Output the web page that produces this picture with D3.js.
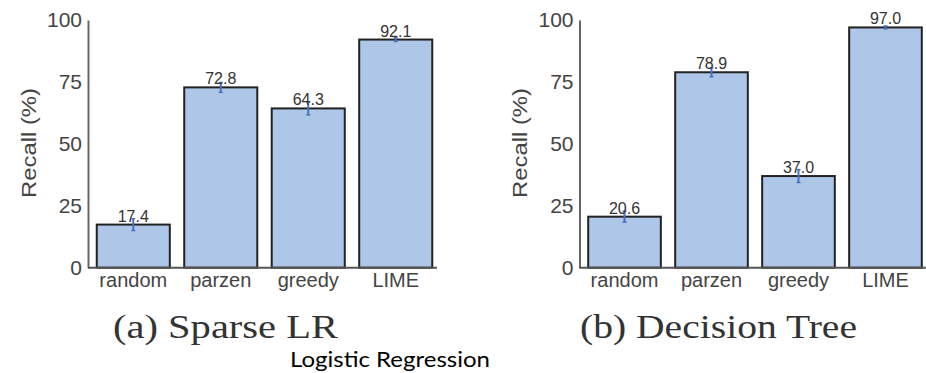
<!DOCTYPE html>
<html>
<head>
<meta charset="utf-8">
<script src="https://cdn.jsdelivr.net/npm/d3@7"></script>
<style>
  body { margin: 0; background: white; }
  svg { display: block; }
</style>
</head>
<body>
<svg id="chart" width="926" height="373"></svg>
<script>
// data
const methods = ["random", "parzen", "greedy", "LIME"];
const sparseLRRecall = [17.4, 72.8, 64.3, 92.1];
const sparseLRError = [2.4, 2.0, 2.6, 0.8];
const treeRecall = [20.6, 78.9, 37.0, 97.0];
const treeError = [2.2, 1.8, 2.6, 0.6];
const yTicks = [0, 25, 50, 75, 100];
const captions = ["(a) Sparse LR", "(b) Decision Tree"];
const yLabel = "Recall (%)";
const note = "Logistic Regression";

const sans = "'Liberation Sans', Arial, Helvetica, sans-serif";
const serif = "'Liberation Serif', 'Times New Roman', Times, serif";

const svg = d3.select("#chart");

// panel 설정
const panels = [
    {values: sparseLRRecall, errors: sparseLRError, caption: captions[0],
     axisX: 88, right: 441, lineEnd: 437, labelX: 29, capX: 113, capLen: 225},
    {values: treeRecall, errors: treeError, caption: captions[1],
     axisX: 579.5, right: 930.5, lineEnd: 926, labelX: 520, capX: 580, capLen: 277}
];

const yScale = d3.scaleLinear().domain([0, 100]).range([267.7, 20]);

panels.forEach(p => {
    const g = svg.append("g");

    const xScale = d3.scaleBand()
        .domain(methods)
        .range([p.axisX, p.right])
        .paddingInner(0.165)
        .paddingOuter(0.1);

    // bars
    g.selectAll("rect.bar")
        .data(methods)
        .join("rect")
        .attr("class", "bar")
        .attr("x", d => xScale(d))
        .attr("y", (d, i) => yScale(p.values[i]))
        .attr("width", xScale.bandwidth())
        .attr("height", (d, i) => yScale(0) - yScale(p.values[i]))
        .style("fill", "#aec6e8")
        .style("stroke", "#222")
        .style("stroke-width", 2);

    // error bars
    const err = g.selectAll("g.err")
        .data(methods)
        .join("g")
        .attr("class", "err");
    err.append("line")
        .attr("x1", d => xScale(d) + xScale.bandwidth() / 2)
        .attr("x2", d => xScale(d) + xScale.bandwidth() / 2)
        .attr("y1", (d, i) => yScale(p.values[i] - p.errors[i]))
        .attr("y2", (d, i) => yScale(p.values[i] + p.errors[i]))
        .style("stroke", "#4a72c4")
        .style("stroke-width", 2);
    [-1, 1].forEach(s => {
        err.append("line")
            .attr("x1", d => xScale(d) + xScale.bandwidth() / 2 - 2)
            .attr("x2", d => xScale(d) + xScale.bandwidth() / 2 + 2)
            .attr("y1", (d, i) => yScale(p.values[i] + s * p.errors[i]))
            .attr("y2", (d, i) => yScale(p.values[i] + s * p.errors[i]))
            .style("stroke", "#4a72c4")
            .style("stroke-width", 1.5);
    });

    // value labels
    g.selectAll("text.val")
        .data(methods)
        .join("text")
        .attr("class", "val")
        .attr("x", d => xScale(d) + xScale.bandwidth() / 2)
        .attr("y", (d, i) => yScale(p.values[i]) - 3)
        .attr("text-anchor", "middle")
        .style("font-family", sans)
        .style("font-size", "16px")
        .style("fill", "#333")
        .text((d, i) => p.values[i].toFixed(1));

    // y axis
    const yAxis = g.append("g")
        .attr("transform", `translate(${p.axisX},0)`)
        .call(d3.axisLeft(yScale).tickValues(yTicks).tickSize(0).tickPadding(6));
    yAxis.select(".domain").style("stroke", "#666").style("stroke-width", 2);
    yAxis.selectAll("text")
        .style("font-family", sans)
        .style("font-size", "21px")
        .style("fill", "#444");

    // baseline
    g.append("line")
        .attr("x1", p.axisX)
        .attr("x2", p.lineEnd)
        .attr("y1", yScale(0))
        .attr("y2", yScale(0))
        .style("stroke", "#555")
        .style("stroke-width", 2);

    // x labels
    const xAxis = g.append("g")
        .attr("transform", `translate(0,${yScale(0)})`)
        .call(d3.axisBottom(xScale).tickSize(0).tickPadding(5));
    xAxis.select(".domain").remove();
    xAxis.selectAll("text")
        .style("font-family", sans)
        .style("font-size", "20px")
        .style("fill", "#444");

    // y label
    g.append("text")
        .attr("transform", `translate(${p.labelX + 7},143) rotate(-90)`)
        .attr("text-anchor", "middle")
        .attr("textLength", 110)
        .attr("lengthAdjust", "spacingAndGlyphs")
        .style("font-family", sans)
        .style("font-size", "21px")
        .style("fill", "#444")
        .text(yLabel);

    // caption
    g.append("text")
        .attr("x", p.capX)
        .attr("y", 338)
        .attr("textLength", p.capLen)
        .attr("lengthAdjust", "spacingAndGlyphs")
        .style("font-family", serif)
        .style("font-size", "33px")
        .style("fill", "#333")
        .text(p.caption);
});

svg.append("text")
    .attr("x", 290)
    .attr("y", 367)
    .attr("textLength", 200)
    .attr("lengthAdjust", "spacingAndGlyphs")
    .style("font-family", "Lato, 'Open Sans', sans-serif")
    .style("font-size", "21px")
    .style("fill", "#000")
    .text(note);
</script>
</body>
</html>
